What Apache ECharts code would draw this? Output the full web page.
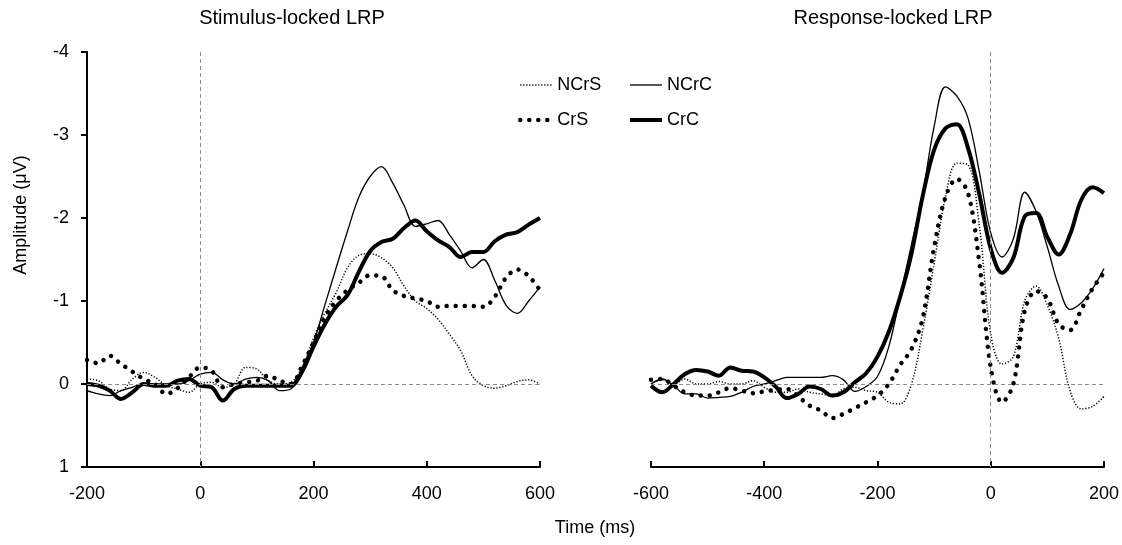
<!DOCTYPE html>
<html>
<head>
<meta charset="utf-8">
<script src="https://cdn.jsdelivr.net/npm/echarts@6/dist/echarts.min.js"></script>
<style>html,body{margin:0;padding:0;background:#fff}#c{width:1122px;height:545px}</style>
</head>
<body>
<div id="c"></div>
<script>
// ---------- data ----------
const stimTime = [-200,-180,-160,-140,-120,-100,-80,-60,-40,-20,0,20,40,60,80,100,120,140,160,180,200,220,240,260,280,300,320,340,360,380,400,420,440,460,480,500,520,540,560,580,600];
const respTime = [-600,-580,-560,-540,-520,-500,-480,-460,-440,-420,-400,-380,-360,-340,-320,-300,-280,-260,-240,-220,-200,-180,-160,-140,-120,-100,-80,-60,-40,-20,0,20,40,60,80,100,120,140,160,180,200];

// Stimulus-locked (µV)
const stimNCrS = [-0.06,-0.04,0.06,0.08,-0.06,-0.14,-0.08,0.02,0.06,0.10,0.00,-0.02,0.04,0.00,-0.20,-0.18,-0.04,0.00,-0.02,-0.20,-0.55,-0.85,-1.10,-1.40,-1.55,-1.57,-1.52,-1.40,-1.18,-1.00,-0.91,-0.78,-0.60,-0.40,-0.10,0.02,0.05,0.02,-0.03,-0.05,0.00];
const stimCrS  = [-0.29,-0.25,-0.34,-0.24,-0.15,-0.06,0.00,0.12,0.05,-0.08,-0.20,-0.16,0.04,0.00,-0.02,-0.04,-0.10,-0.04,0.00,-0.22,-0.50,-0.80,-1.00,-1.13,-1.22,-1.31,-1.30,-1.13,-1.06,-1.03,-1.00,-0.93,-0.94,-0.94,-0.94,-0.93,-1.05,-1.28,-1.38,-1.30,-1.13];
const stimNCrC = [0.08,0.12,0.14,0.08,0.04,0.00,0.00,0.00,0.00,-0.04,-0.12,-0.14,-0.05,0.00,-0.06,-0.08,-0.04,0.08,0.06,-0.20,-0.50,-0.95,-1.40,-1.84,-2.25,-2.50,-2.62,-2.42,-2.15,-1.90,-1.93,-1.97,-1.80,-1.60,-1.40,-1.50,-1.25,-0.95,-0.85,-1.00,-1.17];
const stimCrC  = [0.00,0.02,0.08,0.18,0.10,0.00,0.02,0.02,-0.04,-0.06,0.02,0.04,0.20,0.06,0.02,0.02,0.02,0.02,0.02,-0.15,-0.45,-0.72,-0.93,-1.07,-1.35,-1.60,-1.71,-1.75,-1.88,-1.97,-1.84,-1.73,-1.65,-1.53,-1.59,-1.59,-1.72,-1.80,-1.83,-1.92,-2.00];

// Response-locked (µV)
const respNCrS = [0.00,-0.05,0.00,-0.06,0.00,0.00,-0.03,0.00,0.00,-0.04,0.04,0.10,0.10,0.06,0.10,0.12,0.14,0.06,0.04,0.08,0.10,0.22,0.24,0.00,-0.65,-1.45,-2.25,-2.66,-2.64,-1.90,-0.60,-0.24,-0.33,-1.00,-1.18,-0.95,-0.55,0.08,0.30,0.27,0.15];
const respCrS  = [-0.05,-0.06,0.02,0.10,0.14,0.14,0.10,0.05,0.08,0.11,0.09,0.07,0.06,0.15,0.26,0.32,0.41,0.36,0.29,0.22,0.14,0.00,-0.23,-0.42,-0.80,-1.65,-2.25,-2.47,-2.30,-1.45,-0.20,0.22,0.00,-0.88,-1.12,-1.03,-0.72,-0.65,-0.90,-1.15,-1.34];
const respNCrC = [0.00,-0.06,0.02,0.12,0.12,0.17,0.16,0.15,0.10,0.03,0.00,-0.04,-0.08,-0.08,-0.08,-0.08,-0.10,-0.05,0.09,0.03,-0.09,-0.45,-1.05,-1.68,-2.30,-3.10,-3.58,-3.47,-3.20,-2.55,-1.82,-1.53,-1.75,-2.31,-2.08,-1.65,-1.18,-0.90,-0.98,-1.15,-1.39];
const respCrC  = [0.02,0.10,0.00,-0.12,-0.17,-0.15,-0.10,-0.20,-0.16,-0.15,-0.08,0.03,0.17,0.12,0.03,0.06,0.14,0.10,-0.02,-0.13,-0.33,-0.63,-1.05,-1.57,-2.27,-2.82,-3.08,-3.13,-2.84,-2.28,-1.63,-1.34,-1.52,-2.02,-2.06,-1.77,-1.56,-1.80,-2.22,-2.37,-2.30];

const yTicks = [-4,-3,-2,-1,0,1];
const stimTicks = [-200,0,200,400,600];
const respTicks = [-600,-400,-200,0,200];

// ---------- styles ----------
const FONT = '"Liberation Sans", Arial, sans-serif';
const styles = {
  NCrS: {color:'#000', width:1.5, type:[1.2,1.8]},
  CrS:  {color:'#000', width:4.5, type:[0.01,9], cap:'round'},
  NCrC: {color:'#000', width:1.3, type:'solid'},
  CrC:  {color:'#000', width:4, type:'solid'}
};
const hiddenSym = {color:'rgba(0,0,0,0)', borderColor:'rgba(0,0,0,0)', borderWidth:0};
const zip = (t, v) => t.map((x, i) => [x, v[i]]);

function lineSeries(name, t, v, idx) {
  return {
    name, type:'line', xAxisIndex:idx, yAxisIndex:idx,
    data: zip(t, v), smooth:0.35, symbol:'none', showSymbol:false,
    lineStyle: styles[name], itemStyle:{color:'#000'},
    animation:false, z: 3
  };
}
function zeroSeries(idx) {
  return {
    name:'zero'+idx, type:'line', xAxisIndex:idx, yAxisIndex:idx, data:[], z:1,
    markLine:{silent:true, symbol:'none', animation:false, label:{show:false},
      lineStyle:{type:[4,3], color:'#8c8c8c', width:1},
      data:[{xAxis:0},{yAxis:0}]}
  };
}
function xAxis(idx, ticks) {
  return {
    type:'value', gridIndex:idx, min:ticks[0], max:ticks[ticks.length-1], interval:200,
    axisLine:{onZero:false, lineStyle:{color:'#000', width:2}},
    axisTick:{inside:true, length:6, lineStyle:{color:'#000', width:2}},
    axisLabel:{color:'#000', fontSize:18, fontFamily:FONT, margin:18},
    splitLine:{show:false}
  };
}
function legendItem(name) {
  return {name, lineStyle:styles[name], itemStyle:hiddenSym};
}
const chart = echarts.init(document.getElementById('c'));
chart.setOption({
  animation:false,
  backgroundColor:'#fff',
  title:[
    {text:'Stimulus-locked LRP', left:292, top:8, textAlign:'center', padding:0,
     textStyle:{fontSize:20, fontWeight:'normal', color:'#000', fontFamily:FONT}},
    {text:'Response-locked LRP', left:893, top:8, textAlign:'center', padding:0,
     textStyle:{fontSize:20, fontWeight:'normal', color:'#000', fontFamily:FONT}},
    {text:'Time (ms)', left:595, top:519, textAlign:'center', padding:0,
     textStyle:{fontSize:18, fontWeight:'normal', color:'#000', fontFamily:FONT}}
  ],
  graphic:[{type:'text', x:21, y:215, rotation:Math.PI/2,
    style:{text:'Amplitude (μV)', font:'18px "Liberation Sans", Arial, sans-serif', fill:'#000', align:'center', verticalAlign:'middle'}}],
  legend:[
    {data:[legendItem('NCrS'), legendItem('CrS')],
     orient:'vertical', left:513, top:71, itemWidth:32, itemHeight:14, itemGap:17,
     textStyle:{fontSize:18, color:'#000', fontFamily:FONT}, selectedMode:false},
    {data:[legendItem('NCrC'), legendItem('CrC')],
     orient:'vertical', left:623, top:71, itemWidth:32, itemHeight:14, itemGap:17,
     textStyle:{fontSize:18, color:'#000', fontFamily:FONT}, selectedMode:false}
  ],
  grid:[
    {left:87, top:52, width:453, height:415},
    {left:651, top:52, width:453, height:415}
  ],
  xAxis:[xAxis(0, stimTicks), xAxis(1, respTicks)],
  yAxis:[
    {type:'value', gridIndex:0, min:yTicks[0], max:yTicks[yTicks.length-1], interval:1, inverse:true,
     axisLine:{show:true, onZero:false, lineStyle:{color:'#000', width:2}},
     axisTick:{show:true, length:6, lineStyle:{color:'#000', width:2}},
     axisLabel:{color:'#000', fontSize:18, fontFamily:FONT, margin:18},
     splitLine:{show:false}},
    {type:'value', gridIndex:1, min:yTicks[0], max:yTicks[yTicks.length-1], interval:1, inverse:true, show:false,
     axisLine:{onZero:false}, splitLine:{show:false}}
  ],
  series:[
    zeroSeries(0), zeroSeries(1),
    lineSeries('NCrS', stimTime, stimNCrS, 0),
    lineSeries('CrS',  stimTime, stimCrS, 0),
    lineSeries('NCrC', stimTime, stimNCrC, 0),
    lineSeries('CrC',  stimTime, stimCrC, 0),
    lineSeries('NCrS', respTime, respNCrS, 1),
    lineSeries('CrS',  respTime, respCrS, 1),
    lineSeries('NCrC', respTime, respNCrC, 1),
    lineSeries('CrC',  respTime, respCrC, 1)
  ]
});
</script>
</body>
</html>
